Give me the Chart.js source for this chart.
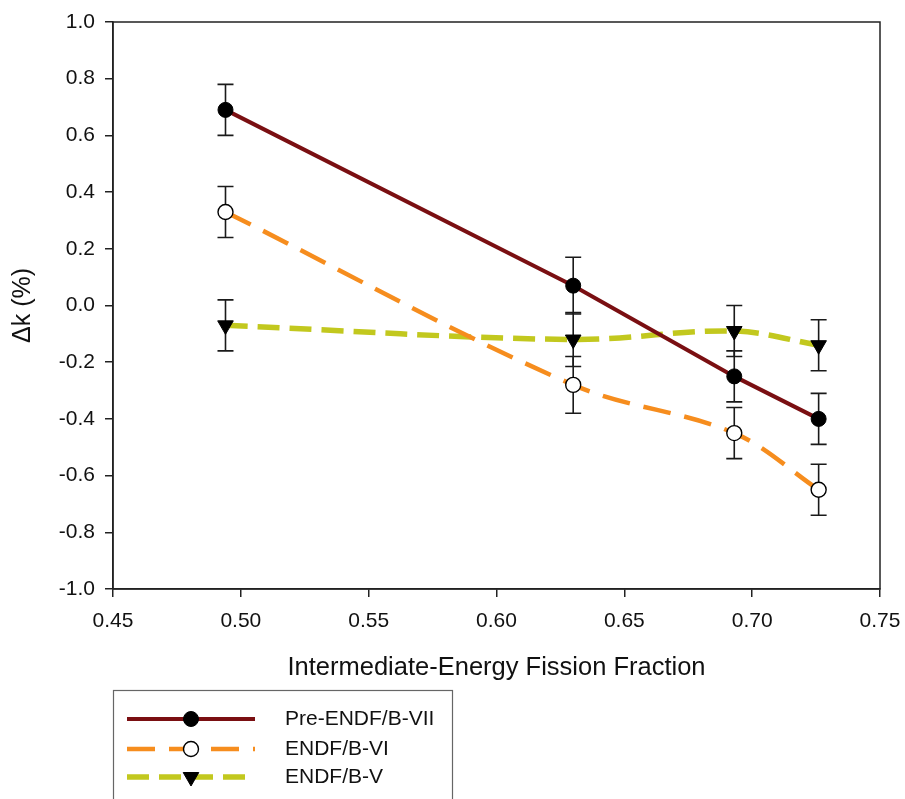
<!DOCTYPE html>
<html>
<head>
<meta charset="utf-8">
<script src="https://cdn.jsdelivr.net/npm/chart.js@4.4.1/dist/chart.umd.min.js"></script>
<style>
  html, body { margin: 0; padding: 0; background: #fff; }
  #wrap { width: 905px; height: 799px; position: relative; }
</style>
</head>
<body>
<div id="wrap"><canvas id="chart" width="905" height="799"></canvas></div>
<script>
// data
const fraction = [0.494, 0.63, 0.693, 0.726];
const seriesNames = ["Pre-ENDF/B-VII", "ENDF/B-VI", "ENDF/B-V"];
const preEndf7 = [0.69, 0.07, -0.25, -0.40];
const endf6 = [0.33, -0.28, -0.45, -0.65];
const endf5 = [-0.07, -0.12, -0.09, -0.14];
const errPreEndf7 = [0.09, 0.10, 0.09, 0.09];
const errEndf6 = [0.09, 0.10, 0.09, 0.09];
const errEndf5 = [0.09, 0.095, 0.09, 0.09];
const xTicks = [0.45, 0.50, 0.55, 0.60, 0.65, 0.70, 0.75];
const yTicks = [-1.0, -0.8, -0.6, -0.4, -0.2, 0.0, 0.2, 0.4, 0.6, 0.8, 1.0];

const FONT = "'Liberation Sans', Arial, sans-serif";

const toPoints = (vals) => vals.map((v, i) => ({ x: fraction[i], y: v }));

// vertical error bars with caps, drawn under the lines
const errorBars = {
  id: "errorBars",
  beforeDatasetsDraw(chart) {
    const { ctx, scales: { x, y } } = chart;
    ctx.save();
    ctx.strokeStyle = "#1a1a1a";
    ctx.lineWidth = 1.6;
    chart.data.datasets.forEach((ds) => {
      ds.data.forEach((p, i) => {
        const px = x.getPixelForValue(p.x);
        const top = y.getPixelForValue(p.y + ds.err[i]);
        const bot = y.getPixelForValue(p.y - ds.err[i]);
        ctx.beginPath();
        ctx.moveTo(px, top); ctx.lineTo(px, bot);
        ctx.moveTo(px - 8, top); ctx.lineTo(px + 8, top);
        ctx.moveTo(px - 8, bot); ctx.lineTo(px + 8, bot);
        ctx.stroke();
      });
    });
    ctx.restore();
  }
};

// box round the plot + legend under the x axis
const frameAndLegend = {
  id: "frameAndLegend",
  afterDraw(chart) {
    const { ctx, chartArea: a } = chart;
    ctx.save();
    ctx.strokeStyle = "#222";
    ctx.lineWidth = 1.5;
    ctx.strokeRect(a.left, a.top, a.right - a.left, a.bottom - a.top);

    ctx.strokeStyle = "#666";
    ctx.lineWidth = 1.2;
    ctx.strokeRect(113.5, 690.5, 339, 140);

    const rows = [719, 749, 777];
    chart.data.datasets.forEach((ds, i) => {
      const ry = rows[i];
      ctx.save();
      ctx.strokeStyle = ds.borderColor;
      ctx.lineWidth = ds.borderWidth;
      ctx.setLineDash(ds.borderDash || []);
      ctx.beginPath();
      ctx.moveTo(127, ry);
      ctx.lineTo(255, ry);
      ctx.stroke();
      ctx.restore();

      ctx.save();
      ctx.fillStyle = ds.pointBackgroundColor;
      ctx.strokeStyle = ds.pointBorderColor;
      ctx.lineWidth = ds.pointBorderWidth;
      Chart.helpers.drawPoint(ctx, {
        pointStyle: ds.pointStyle,
        radius: ds.pointRadius,
        rotation: ds.pointRotation || 0,
        borderWidth: ds.pointBorderWidth
      }, 191, ry);
      ctx.restore();

      ctx.fillStyle = "#111";
      ctx.font = "21px " + FONT;
      ctx.textBaseline = "middle";
      ctx.textAlign = "left";
      ctx.fillText(ds.label, 285, ry);
    });
    ctx.restore();
  }
};

new Chart(document.getElementById("chart"), {
  type: "line",
  data: {
    datasets: [
      {
        label: seriesNames[0],
        data: toPoints(preEndf7),
        err: errPreEndf7,
        borderColor: "#7a0f12",
        borderWidth: 4,
        tension: 0,
        pointStyle: "circle",
        pointRadius: 7.5,
        pointBackgroundColor: "#000",
        pointBorderColor: "#000",
        pointBorderWidth: 1
      },
      {
        label: seriesNames[1],
        data: toPoints(endf6),
        err: errEndf6,
        borderColor: "#f68d1e",
        borderWidth: 4.5,
        borderDash: [28, 14],
        tension: 0.35,
        pointStyle: "circle",
        pointRadius: 7.5,
        pointBackgroundColor: "#fff",
        pointBorderColor: "#000",
        pointBorderWidth: 1.4
      },
      {
        label: seriesNames[2],
        data: toPoints(endf5),
        err: errEndf5,
        borderColor: "#c2c81e",
        borderWidth: 5.5,
        borderDash: [22, 10],
        tension: 0.35,
        pointStyle: "triangle",
        pointRotation: 180,
        pointRadius: 9,
        pointBackgroundColor: "#000",
        pointBorderColor: "#000",
        pointBorderWidth: 1
      }
    ]
  },
  options: {
    responsive: false,
    animation: false,
    layout: { padding: { left: 0, top: 22, right: 25, bottom: 0 } },
    plugins: {
      legend: { display: false },
      tooltip: { enabled: false }
    },
    scales: {
      x: {
        type: "linear",
        min: 0.45,
        max: 0.75,
        afterFit: (s) => { s.height = 210; s.paddingLeft = 0; s.paddingRight = 0; },
        afterBuildTicks: (s) => { s.ticks = xTicks.map((v) => ({ value: v })); },
        ticks: {
          color: "#111",
          padding: 12,
          maxRotation: 0,
          autoSkip: false,
          font: { family: FONT, size: 21 },
          callback: (v) => Number(v).toFixed(2)
        },
        grid: { drawOnChartArea: false, drawTicks: true, tickLength: 8, color: "#222", lineWidth: 1.5 },
        border: { display: true, color: "#222", width: 1.5 },
        title: {
          display: true,
          text: "Intermediate-Energy Fission Fraction",
          color: "#111",
          font: { family: FONT, size: 25.5 },
          padding: { top: 0, bottom: 116 }
        }
      },
      y: {
        min: -1,
        max: 1,
        afterFit: (s) => { s.width = 113; s.paddingTop = 0; s.paddingBottom = 0; },
        afterBuildTicks: (s) => { s.ticks = yTicks.map((v) => ({ value: v })); },
        ticks: {
          color: "#111",
          padding: 10,
          autoSkip: false,
          font: { family: FONT, size: 21 },
          callback: (v) => Number(v).toFixed(1)
        },
        grid: { drawOnChartArea: false, drawTicks: true, tickLength: 8, color: "#222", lineWidth: 1.5 },
        border: { display: true, color: "#222", width: 1.5 },
        title: {
          display: true,
          text: "\u0394k (%)",
          color: "#111",
          font: { family: FONT, size: 25 },
          padding: { top: 8, bottom: 0 }
        }
      }
    }
  },
  plugins: [errorBars, frameAndLegend]
});
</script>
</body>
</html>
